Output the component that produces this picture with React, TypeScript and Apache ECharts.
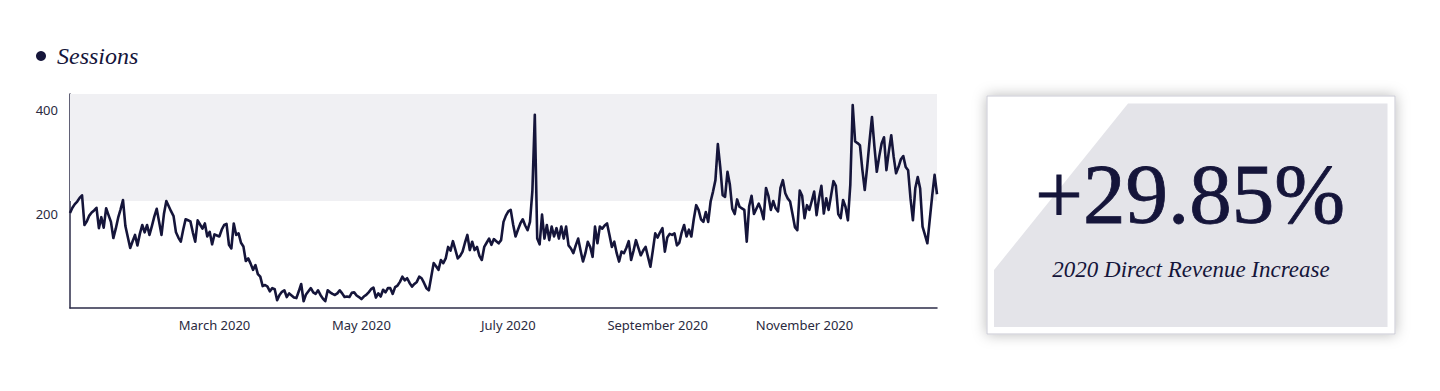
import { useEffect, useRef } from "react";
import * as echarts from "echarts";

// ---------- data ----------
const START_DATE = "2020-01-01";
const seriesName = "Sessions";

const jan = [202, 212, 219, 224, 231, 236, 179, 186, 197, 203, 207, 212, 173, 194, 174, 211, 198, 185, 154, 172, 193, 209, 227, 177, 156, 135, 148, 160, 140, 162, 179];
const feb = [165, 179, 160, 177, 195, 210, 185, 160, 200, 225, 215, 205, 196, 165, 155, 147, 170, 190, 188, 186, 165, 147, 188, 180, 172, 182, 157, 166, 142];
const mar = [161, 159, 157, 170, 179, 181, 141, 134, 182, 160, 163, 145, 138, 110, 115, 105, 93, 102, 85, 80, 62, 64, 61, 52, 58, 56, 35, 45, 51, 54, 41];
const apr = [48, 44, 40, 39, 52, 66, 33, 46, 52, 58, 50, 47, 54, 45, 38, 33, 54, 50, 47, 45, 48, 54, 48, 41, 42, 41, 49, 50, 44, 41];
const may = [37, 42, 45, 50, 56, 59, 40, 48, 42, 55, 50, 58, 58, 47, 60, 63, 70, 80, 73, 77, 68, 61, 66, 70, 80, 77, 68, 58, 54, 80, 106];
const jun = [100, 93, 112, 106, 115, 137, 130, 148, 132, 115, 120, 128, 145, 160, 131, 147, 131, 137, 120, 112, 137, 145, 153, 141, 152, 148, 144, 150, 185, 197];
const jul = [205, 208, 180, 157, 170, 182, 190, 178, 169, 185, 245, 390, 153, 142, 199, 153, 179, 150, 176, 157, 173, 153, 176, 153, 176, 140, 134, 125, 140, 153, 130];
const aug = [109, 125, 147, 137, 118, 176, 144, 176, 172, 178, 182, 160, 137, 147, 125, 109, 128, 125, 135, 148, 112, 130, 150, 135, 121, 130, 137, 118, 99, 130, 163];
const sep = [155, 165, 173, 128, 155, 162, 160, 163, 140, 145, 165, 179, 157, 170, 157, 190, 217, 208, 190, 185, 204, 185, 224, 243, 265, 334, 290, 236, 233, 281];
const oct = [256, 210, 200, 228, 214, 211, 208, 147, 215, 235, 200, 210, 220, 208, 190, 250, 235, 208, 225, 211, 205, 250, 265, 240, 230, 224, 200, 175, 169, 245, 235];
const nov = [192, 217, 208, 225, 243, 198, 230, 254, 201, 230, 208, 235, 263, 254, 200, 192, 227, 214, 188, 256, 409, 339, 336, 332, 285, 246, 290, 340, 386, 330];
const dec = [281, 310, 335, 347, 284, 320, 351, 310, 278, 290, 305, 311, 290, 284, 230, 188, 250, 271, 249, 176, 160, 144, 190, 235, 275, 238];

const sessions = [...jan, ...feb, ...mar, ...apr, ...may, ...jun, ...jul, ...aug, ...sep, ...oct, ...nov, ...dec];

const tickDates = ["2020-03-01", "2020-05-01", "2020-07-01", "2020-09-01", "2020-11-01"];
const tickLabels = ["March 2020", "May 2020", "July 2020", "September 2020", "November 2020"];
const yLabelValues = [200, 400];
const yMin = 20;
const yMax = 430;
const bandRange = [225, 430];

const kpiValue = "+29.85%";
const kpiCaption = "2020 Direct Revenue Increase";

function buildDates(start: string, n: number): string[] {
  const out: string[] = [];
  const t0 = Date.parse(start + "T00:00:00Z");
  for (let i = 0; i < n; i++) {
    out.push(new Date(t0 + i * 86400000).toISOString().slice(0, 10));
  }
  return out;
}

const dates = buildDates(START_DATE, sessions.length);

const NAVY = "#15153a";
const AXIS = "#2c2c48";

export default function App() {
  const ref = useRef<HTMLDivElement>(null);

  useEffect(() => {
    if (!ref.current) return;
    const chart = echarts.init(ref.current, null, { renderer: "svg" });
    chart.setOption({
      animation: false,
      legend: {
        data: [seriesName],
        icon: "circle",
        itemWidth: 10,
        itemHeight: 10,
        left: 36,
        top: 44,
        padding: 0,
        selectedMode: false,
        textStyle: {
          fontFamily: "Liberation Serif",
          fontStyle: "italic",
          fontSize: 24,
          color: NAVY,
          padding: [0, 0, 0, 6],
        },
      },
      grid: { left: 70, right: 503, top: 94, bottom: 83, containLabel: false },
      xAxis: {
        type: "category",
        data: dates,
        boundaryGap: false,
        axisLine: { lineStyle: { color: AXIS, width: 1.5 } },
        axisTick: { show: false },
        splitLine: { show: false },
        axisLabel: {
          interval: (_i: number, v: string) => tickDates.includes(v),
          formatter: (v: string) => {
            const k = tickDates.indexOf(v);
            return k >= 0 ? tickLabels[k] : "";
          },
          color: "#2a2a40",
          fontFamily: "Noto Sans",
          fontSize: 13,
          margin: 10,
        },
      },
      yAxis: {
        type: "value",
        min: yMin,
        max: yMax,
        interval: 10,
        axisLine: { show: true, lineStyle: { color: AXIS, width: 1.5 } },
        axisTick: { show: false },
        splitLine: { show: false },
        axisLabel: {
          showMinLabel: false,
          showMaxLabel: false,
          formatter: (v: number) => (yLabelValues.includes(Math.round(v)) ? String(Math.round(v)) : ""),
          color: "#2a2a40",
          fontFamily: "Noto Sans",
          fontSize: 13,
          margin: 12,
        },
      },
      series: [
        {
          name: seriesName,
          type: "line",
          data: sessions,
          showSymbol: false,
          symbol: "none",
          color: NAVY,
          lineStyle: { color: NAVY, width: 2.6, join: "round" },
          markArea: {
            silent: true,
            itemStyle: { color: "#f0f0f3" },
            data: [[{ yAxis: bandRange[0] }, { yAxis: bandRange[1] }]],
          },
        },
      ],
      graphic: [
        {
          type: "rect",
          shape: { x: 987, y: 96, width: 408, height: 238 },
          style: {
            fill: "#ffffff",
            stroke: "#c9c9d3",
            lineWidth: 1,
            shadowBlur: 14,
            shadowColor: "rgba(0,0,0,0.28)",
          },
          z: 10,
        },
        {
          type: "polygon",
          shape: {
            points: [
              [1128, 103.5],
              [1387.5, 103.5],
              [1387.5, 327],
              [994, 327],
              [994, 270],
            ],
          },
          style: { fill: "#e4e4e9" },
          z: 11,
        },
        {
          type: "text",
          x: 1190,
          y: 193.5,
          style: {
            text: kpiValue,
            fontFamily: "Liberation Serif",
            fontSize: 85,
            fill: NAVY,
            stroke: NAVY,
            lineWidth: 0.8,
            textAlign: "center",
            textVerticalAlign: "middle",
          },
          z: 12,
        },
        {
          type: "text",
          x: 1191,
          y: 269,
          style: {
            text: kpiCaption,
            fontFamily: "Liberation Serif",
            fontStyle: "italic",
            fontSize: 23,
            fill: NAVY,
            textAlign: "center",
            textVerticalAlign: "middle",
          },
          z: 12,
        },
      ],
    });
    return () => chart.dispose();
  }, []);

  return (
    <div
      ref={ref}
      style={{ position: "absolute", left: 0, top: 0, width: 1440, height: 391, background: "#ffffff" }}
    />
  );
}
